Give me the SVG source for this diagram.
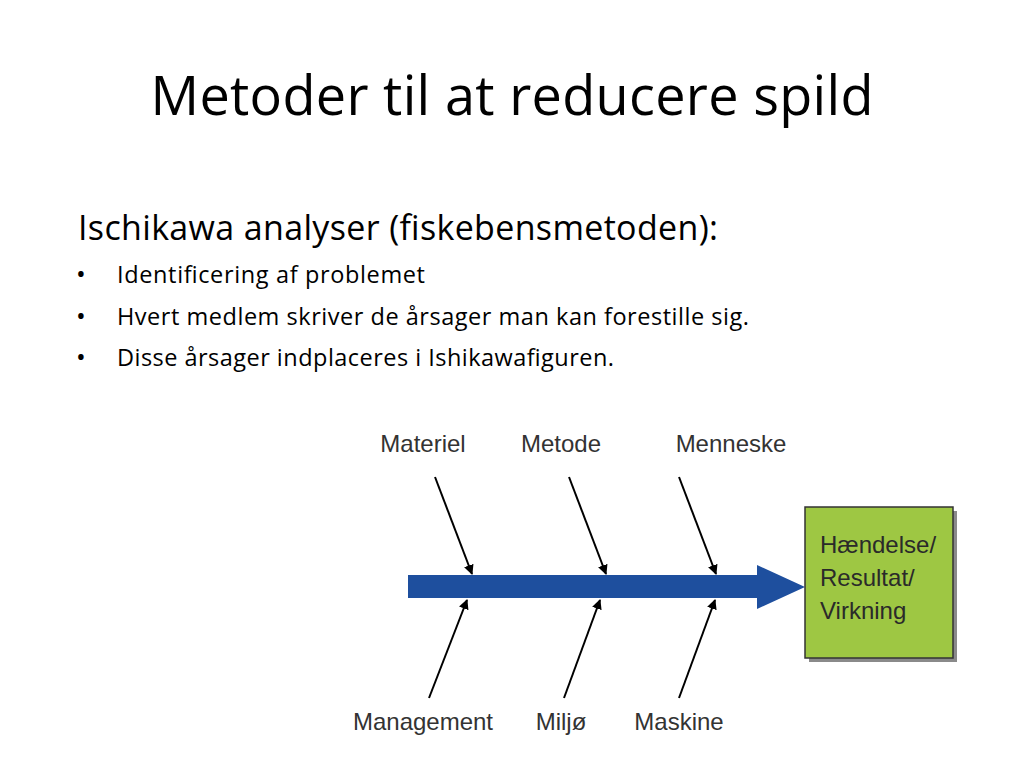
<svg xmlns="http://www.w3.org/2000/svg" width="1024" height="768" viewBox="0 0 1024 768">
<defs>
<style>
.title{font-family:"Open Sans","Noto Sans",sans-serif;font-size:54px;fill:#000}
.sub{font-family:"Open Sans","Noto Sans",sans-serif;font-size:34px;fill:#000}
.bul{font-family:"Open Sans","Noto Sans",sans-serif;font-size:23.5px;fill:#000}
.lbl{font-family:"Liberation Sans",Arial,sans-serif;font-size:24px;fill:#333;text-anchor:middle}
.box{font-family:"Liberation Sans",Arial,sans-serif;font-size:24px;fill:#2a2a2a}
.bone{stroke:#000;stroke-width:2;fill:none;marker-end:url(#ah)}
</style>
<marker id="ah" viewBox="0 0 10 10" refX="9" refY="5" markerWidth="5" markerHeight="5" orient="auto" markerUnits="strokeWidth">
<path d="M0,0 L10,5 L0,10 z" fill="#000"/>
</marker>
</defs>
<rect width="1024" height="768" fill="#fff"/>
<text class="title" x="512" y="115" text-anchor="middle" textLength="723">Metoder til at reducere spild</text>
<text class="sub" x="78" y="240" textLength="640">Ischikawa analyser (fiskebensmetoden):</text>
<g class="bul">
<text x="76" y="283" font-size="26">•</text><text x="117" y="283" textLength="308">Identificering af problemet</text>
<text x="76" y="325" font-size="26">•</text><text x="117" y="325" textLength="632">Hvert medlem skriver de årsager man kan forestille sig.</text>
<text x="76" y="366" font-size="26">•</text><text x="117" y="366" textLength="497">Disse årsager indplaceres i Ishikawafiguren.</text>
</g>
<g id="spine">
<path d="M408,575 L757,575 L757,565 L805,587 L757,609 L757,598 L408,598 z" fill="#1e4f9e"/>
</g>
<g id="result">
<rect x="809" y="511" width="148" height="151" fill="#8a8a8a"/>
<rect x="805" y="507" width="148" height="151" fill="#9ec743" stroke="#333" stroke-width="1.5"/>
<text class="box" x="820" y="553">Hændelse/</text>
<text class="box" x="820" y="586">Resultat/</text>
<text class="box" x="820" y="619">Virkning</text>
</g>
<g id="materiel"><text class="lbl" x="423" y="452">Materiel</text></g>
<g id="metode"><text class="lbl" x="561" y="452">Metode</text></g>
<g id="menneske"><text class="lbl" x="731" y="452">Menneske</text></g>
<g id="management"><text class="lbl" x="423" y="730">Management</text></g>
<g id="miljo"><text class="lbl" x="561" y="730">Miljø</text></g>
<g id="maskine"><text class="lbl" x="679" y="730">Maskine</text></g>
<g id="connectors">
<line class="bone" x1="435" y1="477" x2="472" y2="574"/>
<line class="bone" x1="569" y1="477" x2="606" y2="574"/>
<line class="bone" x1="679" y1="477" x2="716" y2="574"/>
<line class="bone" x1="429" y1="698" x2="467" y2="600"/>
<line class="bone" x1="564" y1="698" x2="600" y2="600"/>
<line class="bone" x1="679" y1="698" x2="715" y2="600"/>
</g>
</svg>
